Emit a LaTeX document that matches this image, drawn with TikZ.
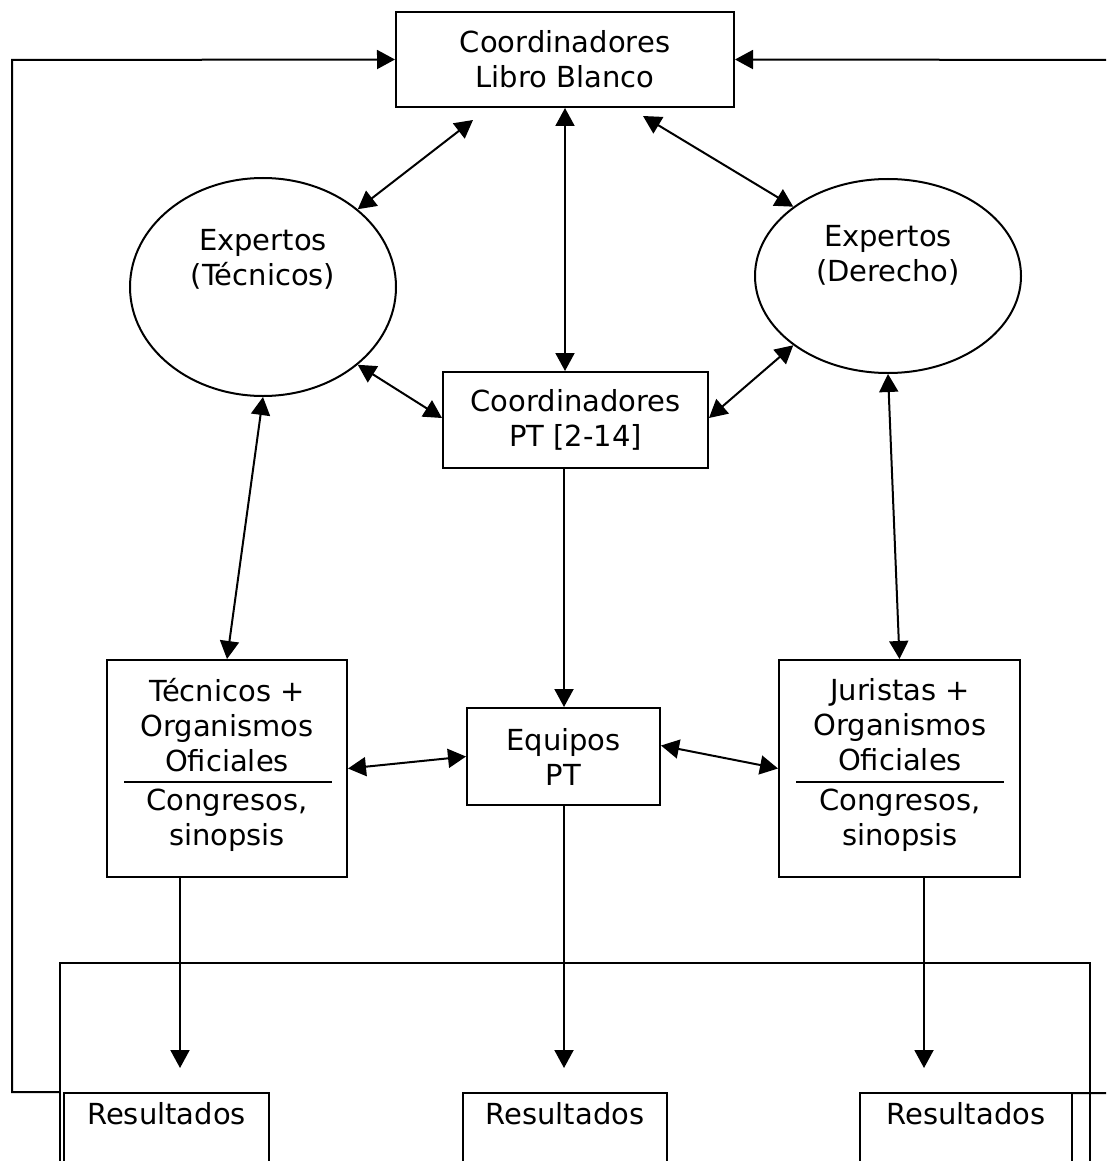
\documentclass[tikz,border=0pt]{standalone}
\usepackage{fontspec}
\setmainfont{DejaVu Sans}
\usetikzlibrary{arrows.meta,shapes.geometric,calc}
\begin{document}
\begin{tikzpicture}[x=1pt,y=-1pt,
  every node/.style={font=\fontsize{29}{35}\selectfont},
  box/.style={draw,line width=2pt,rectangle,inner sep=0pt,align=center},
  oval/.style={draw,line width=2pt,ellipse,inner sep=0pt},
  txt/.style={align=center,inner sep=0pt},
  ln/.style={line width=2pt},
  tip/.tip={Triangle[length=18pt,width=19pt]},
  arr/.style={ln,-tip},
  darr/.style={ln,tip-tip},
]
\useasboundingbox (0,0) rectangle (1106,1161);
\clip (0,0) rectangle (1106,1161);

% main nodes
\node[box, minimum width=338pt, minimum height=95pt] (top) at (565,59.5) {Coordinadores\\Libro Blanco};
\node[box, minimum width=265pt, minimum height=96pt] (ptc) at (575.5,420) {Coordinadores\\PT [2-14]};
\node[box, minimum width=193pt, minimum height=97pt] (eq) at (563.5,756.5) {Equipos\\PT};
\node[box, minimum width=240pt, minimum height=217pt] (lb) at (227,768.5) {};
\node[box, minimum width=241pt, minimum height=217pt] (rb) at (899.5,768.5) {};
\node[oval, minimum width=266pt, minimum height=218pt] (le) at (263,287) {};
\node[oval, minimum width=266pt, minimum height=194pt] (re) at (888,276) {};

% texts
\node[txt] (let) at (263,259) {Expertos\\(Técnicos)};
\node[txt] (ret) at (888,255) {Expertos\\(Derecho)};
\node[txt] (lbt1) at (227,725) {Técnicos +\\Organismos\\Oficiales};
\node[txt] (lbt2) at (227,820) {Congresos,\\sinopsis};
\node[txt] (rbt1) at (900,725) {Juristas +\\Organismos\\Oficiales};
\node[txt] (rbt2) at (900,820) {Congresos,\\sinopsis};
\draw[ln] (124,782) -- (332,782);
\draw[ln] (796,782) -- (1004,782);

% free ends
\coordinate (tl) at (473,120);
\coordinate (tr) at (643,116);
\coordinate (r1) at (180,1068);
\coordinate (r2) at (564,1068);
\coordinate (r3) at (924,1068);

% connectors
\draw[darr] (top.south) -- (top.south |- ptc.north);
\draw[darr] (le.north east) -- (tl);
\draw[darr] (re.north west) -- (tr);
\draw[darr] (le.south east) -- ($(ptc.west)+(0,-2)$);
\draw[darr] (re.south west) -- ($(ptc.east)+(0,-2)$);
\draw[darr] (le.south) -- (lb.north);
\draw[darr] (re.south) -- (rb.north);
\draw[arr] (r2 |- ptc.south) -- (r2 |- eq.north);
\draw[darr] (lb.east) -- (eq.west);
\draw[darr] ($(eq.east)+(0,-11)$) -- (rb.west);
\draw[arr] (lb.south -| r1) -- (r1);
\draw[arr] (r2 |- eq.south) -- (r2);
\draw[arr] (rb.south -| r3) -- (r3);

% bottom frame and result boxes
\draw[ln] (60,1200) -- (60,963) -- (1090,963) -- (1090,1200);
\draw[ln] (64,1200) -- (64,1093) -- (269,1093) -- (269,1200);
\draw[ln] (463,1200) -- (463,1093) -- (667,1093) -- (667,1200);
\draw[ln] (860,1200) -- (860,1093) -- (1072,1093) -- (1072,1200);
\node[txt] (res1) at (166.5,1114) {Resultados};
\node[txt] (res2) at (565,1114) {Resultados};
\node[txt] (res3) at (966,1114) {Resultados};

% feedback loops
\draw[arr] (60,1092) -- (12,1092) -- (12,60) -- (top.west);
\draw[arr] (1072,1093) -- (1140,1093) -- (1140,60) -- (top.east);
\end{tikzpicture}
\end{document}
